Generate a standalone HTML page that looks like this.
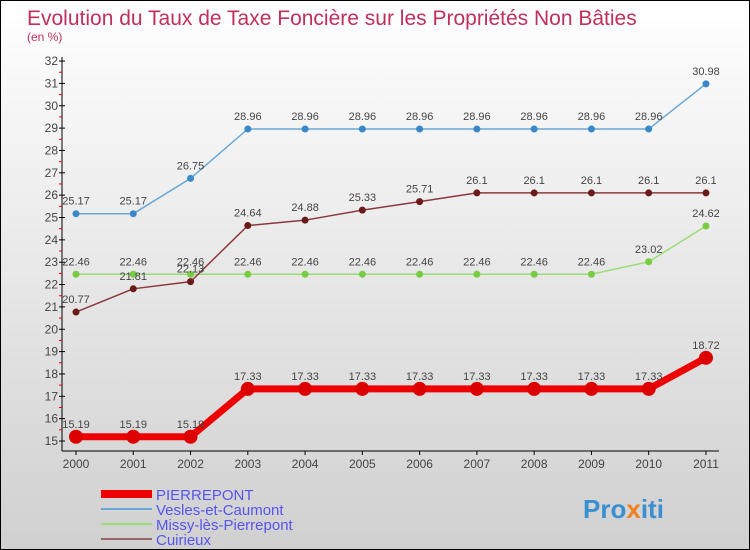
<!DOCTYPE html>
<html><head><meta charset="utf-8"><style>
body{margin:0}
#wrap{width:748px;height:548px;border:1px solid #000;background:linear-gradient(#fff,#d0d0d0);position:relative;overflow:hidden;font-family:"Liberation Sans",sans-serif}
</style></head><body>
<div id="wrap">
<svg id="chart" width="748" height="548" xmlns="http://www.w3.org/2000/svg">
<text x="26" y="24" font-size="21" fill="#c0305a">Evolution du Taux de Taxe Foncière sur les Propriétés Non Bâties</text>
<text x="26" y="40" font-size="12" fill="#c0305a">(en %)</text>
<g id="axes"></g><g id="series"></g><g id="legend"></g>
<text x="582" y="517" font-size="26" font-weight="bold" fill="#3a8fd0">Pro<tspan fill="#f08020">x</tspan>iti</text>
</svg>
</div>
<script>
const years=[2000,2001,2002,2003,2004,2005,2006,2007,2008,2009,2010,2011];
const yTicks=[15,16,17,18,19,20,21,22,23,24,25,26,27,28,29,30,31,32];
const pierrepont=[15.19,15.19,15.19,17.33,17.33,17.33,17.33,17.33,17.33,17.33,17.33,18.72];
const vesles=[25.17,25.17,26.75,28.96,28.96,28.96,28.96,28.96,28.96,28.96,28.96,30.98];
const missy=[22.46,22.46,22.46,22.46,22.46,22.46,22.46,22.46,22.46,22.46,23.02,24.62];
const cuirieux=[20.77,21.81,22.13,24.64,24.88,25.33,25.71,26.1,26.1,26.1,26.1,26.1];
const seriesNames=["PIERREPONT","Vesles-et-Caumont","Missy-lès-Pierrepont","Cuirieux"];
const NS="http://www.w3.org/2000/svg";
const x=i=>75+i*57.27;
const y=v=>440-(v-15)*22.35;
function mk(tag,attrs,parent,txt){const e=document.createElementNS(NS,tag);for(const k in attrs)e.setAttribute(k,attrs[k]);if(txt!==undefined)e.textContent=txt;parent.appendChild(e);return e;}
const ax=document.getElementById('axes');
let l=mk('line',{x1:61,y1:56,x2:61,y2:450,stroke:'#000'},ax);


l=mk('line',{x1:61,y1:450,x2:718,y2:450,stroke:'#000'},ax);


yTicks.forEach(v=>{
 mk('line',{x1:58,y1:y(v),x2:64,y2:y(v),stroke:'#000'},ax);
 if(v<32) mk('line',{x1:58,y1:y(v+0.5),x2:61,y2:y(v+0.5),stroke:'#e00'},ax);
 const t=mk('text',{x:57,y:y(v)+4,'font-size':12,'text-anchor':'end',fill:'#444'},ax,String(v));
 
 
});
years.forEach((yr,i)=>{
 mk('line',{x1:x(i),y1:450,x2:x(i),y2:454,stroke:'#000'},ax);
 const t=mk('text',{x:x(i),y:467,'font-size':12,'text-anchor':'middle',fill:'#444'},ax,String(yr));
 
 
});
const sg=document.getElementById('series');
function draw(data,color,dot,width,r,name){
 const g=mk('g',{},sg);
 
 
 mk('polyline',{points:data.map((v,i)=>x(i)+','+y(v)).join(' '),fill:'none',stroke:color,'stroke-width':width},g);
 data.forEach((v,i)=>{
  const c=mk('circle',{cx:x(i),cy:y(v),r:r,fill:dot},g);
  
  
  const t=mk('text',{x:x(i),y:y(v)-9,'font-size':11,'text-anchor':'middle',fill:'#444'},g,String(v));
  
  
 });
}
draw(missy,'#99dd77','#77cc44',1.5,3.5,'missy-series');
draw(cuirieux,'#8b3a3a','#6b1a1a',1.5,3.5,'cuirieux-series');
draw(vesles,'#6aa8d8','#3a88c8',1.5,3.5,'vesles-series');
draw(pierrepont,'#ee0000','#dd0000',7,7,'pierrepont-series');
const lg=document.getElementById('legend');
const lcol=['#ee0000','#6aa8d8','#99dd77','#996666'];
const lw=[8,2,2,2];
seriesNames.forEach((n,i)=>{
 const yy=493+i*15;
 const g=mk('g',{},lg);
 
 
 mk('line',{x1:100,y1:yy,x2:151,y2:yy,stroke:lcol[i],'stroke-width':lw[i]},g);
 mk('text',{x:155,y:yy+6,'font-size':15,fill:'#5555ee'},g,n);
});
</script>
</body></html>
